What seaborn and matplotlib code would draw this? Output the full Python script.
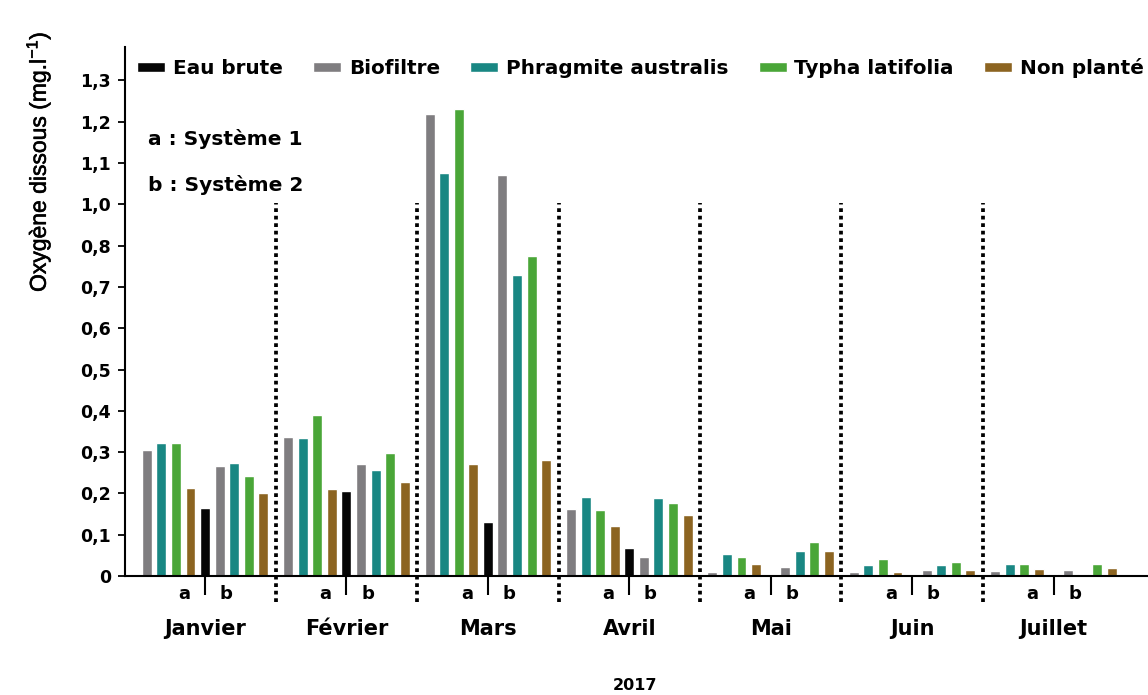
import numpy as np
import pandas as pd
import matplotlib
matplotlib.use("Agg")
import matplotlib.pyplot as plt
import matplotlib.transforms as mtransforms
import matplotlib.patheffects as pe
import seaborn as sns

# --- données : oxygène dissous (mg/l), 2017 ---
mois = ["Janvier", "Février", "Mars", "Avril", "Mai", "Juin", "Juillet"]
series = ["Eau brute", "Biofiltre", "Phragmite australis", "Typha latifolia", "Non planté"]
couleurs = ["#050505", "#7f7d80", "#198783", "#4aa638", "#8c6421"]

eau_brute = [0.165, 0.205, 0.130, 0.069, 0.0, 0.0, 0.006]

# Système 1 (a)
biofiltre_a = [0.306, 0.337, 1.218, 0.162, 0.010, 0.010, 0.012]
phragmite_a = [0.322, 0.334, 1.075, 0.192, 0.054, 0.027, 0.029]
typha_a = [0.322, 0.389, 1.232, 0.161, 0.046, 0.042, 0.030]
non_plante_a = [0.213, 0.211, 0.271, 0.122, 0.028, 0.009, 0.016]

# Système 2 (b)
biofiltre_b = [0.266, 0.272, 1.071, 0.047, 0.023, 0.014, 0.014]
phragmite_b = [0.274, 0.257, 0.730, 0.188, 0.060, 0.026, 0.005]
typha_b = [0.243, 0.299, 0.776, 0.176, 0.083, 0.035, 0.029]
non_plante_b = [0.200, 0.227, 0.282, 0.148, 0.061, 0.014, 0.019]

y_ticks = [0, 0.1, 0.2, 0.3, 0.4, 0.5, 0.6, 0.7, 0.8, 1.0, 1.1, 1.2, 1.3]
y_tick_labels = ["0", "0,1", "0,2", "0,3", "0,4", "0,5", "0,6", "0,7", "0,8",
                 "1,0", "1,1", "1,2", "1,3"]

# --- mise en forme longue : 9 barres par mois (a | eau brute | b) ---
PAS_MOIS = 9.7
rows = []
for m in range(len(mois)):
    base = m * PAS_MOIS
    groupe_a = [biofiltre_a[m], phragmite_a[m], typha_a[m], non_plante_a[m]]
    groupe_b = [biofiltre_b[m], phragmite_b[m], typha_b[m], non_plante_b[m]]
    for k, v in enumerate(groupe_a):
        rows.append((base + k, v, series[k + 1]))
    rows.append((base + 4, eau_brute[m], series[0]))
    for k, v in enumerate(groupe_b):
        rows.append((base + 5 + k, v, series[k + 1]))
df = pd.DataFrame(rows, columns=["pos", "valeur", "serie"])

sns.set_theme(style="white")
plt.rcParams["font.family"] = ["DejaVu Sans"]
plt.rcParams["mathtext.default"] = "regular"
plt.rcParams["text.color"] = "black"
plt.rcParams["xtick.color"] = "black"
plt.rcParams["ytick.color"] = "black"
plt.rcParams["axes.labelcolor"] = "black"

fig = plt.figure(figsize=(11.48, 6.95), dpi=100)
W, H = 1148, 695
ax = fig.add_axes([125 / W, (H - 576) / H, 1 - 125 / W, (576 - 47) / H])

sns.barplot(data=df, x="pos", y="valeur", hue="serie", hue_order=series,
            palette=couleurs, native_scale=True, dodge=False, width=0.68,
            errorbar=None, saturation=1, ax=ax)


# axe vertical interrompu : la graduation 0,9 est sautée
def _fwd(v):
    v = np.asarray(v, dtype=float)
    return np.where(v <= 0.8, v, np.maximum(v - 0.1, 0.8))


def _inv(u):
    u = np.asarray(u, dtype=float)
    return np.where(u <= 0.8, u, u + 0.1)


ax.set_yscale("function", functions=(_fwd, _inv))
ax.set_ylim(0, 1.381)
ax.set_yticks(y_ticks)
ax.set_yticklabels(y_tick_labels)
ax.minorticks_off()
ax.set_xlim(-1.49, 68.68)

# spines & ticks
for s in ["top", "right"]:
    ax.spines[s].set_visible(False)
for s in ["left", "bottom"]:
    ax.spines[s].set_linewidth(1.5)
    ax.spines[s].set_color("black")
ax.tick_params(axis="y", which="major", left=True, length=5, width=1.3,
               pad=5, labelsize=12.5, colors="black")
for lab in ax.get_yticklabels():
    lab.set_fontweight("bold")
    lab.set_color("black")

# séparateurs a | b sous l'axe
ax.set_xticks([])
separateurs_ab = [m * PAS_MOIS + 4 for m in range(len(mois))]
ax.set_xticks(separateurs_ab, minor=True)
ax.tick_params(axis="x", which="minor", bottom=True, length=14, width=1.5,
               direction="out", color="black", labelbottom=False)
ax.set_xlabel("")
ax.set_ylabel("")

trans = mtransforms.blended_transform_factory(ax.transData, ax.transAxes)

# lignes pointillées entre les mois
for m in range(len(mois) - 1):
    xs = m * PAS_MOIS + 8.85
    ax.plot([xs, xs], [-0.049, 0.705], transform=trans, color="black",
            lw=2.7, linestyle=(0, (1, 1.0)), clip_on=False, zorder=3)

# étiquettes a / b et noms des mois
for m, nom in enumerate(mois):
    base = m * PAS_MOIS
    ax.text(base + 2.56, -0.0435, "a", transform=trans, ha="center",
            va="baseline", fontsize=13, fontweight="bold", color="black")
    ax.text(base + 5.44, -0.0435, "b", transform=trans, ha="center",
            va="baseline", fontsize=13, fontweight="bold", color="black")
    ax.text(base + 4, -0.1115, nom, transform=trans, ha="center",
            va="baseline", fontsize=15, fontweight="bold", color="black")

fig.text(635 / W, 1 - 686 / H, "2017", ha="center", va="center",
         fontsize=11.5, fontweight="bold", color="black")

# annotations systèmes
ax.text(0.0225, 0.826, "a : Système 1", transform=ax.transAxes, ha="left",
        va="center", fontsize=14.5, fontweight="bold", color="black")
ax.text(0.0225, 0.739, "b : Système 2", transform=ax.transAxes, ha="left",
        va="center", fontsize=14.5, fontweight="bold", color="black")

# titre de l'axe vertical
fig.text(38 / W, 1 - 162 / H, "Oxygène dissous (mg.l$^{-1}$)", rotation=90,
         ha="center", va="center", fontsize=16.5, family="Liberation Sans",
         color="black",
         path_effects=[pe.withStroke(linewidth=0.4, foreground="black")])

# légende
handles, labels = ax.get_legend_handles_labels()
if ax.get_legend() is not None:
    ax.get_legend().remove()
leg = ax.legend(handles, labels, ncol=5, loc="center left",
                bbox_to_anchor=(137 / W, 1 - 68 / H),
                bbox_transform=fig.transFigure,
                frameon=False, prop={"weight": "bold", "size": 14.4},
                handlelength=1.4, handleheight=0.45, handletextpad=0.4,
                columnspacing=1.5, borderpad=0, borderaxespad=0)
for t in leg.get_texts():
    t.set_color("black")

fig.savefig("out.png", dpi=100)
